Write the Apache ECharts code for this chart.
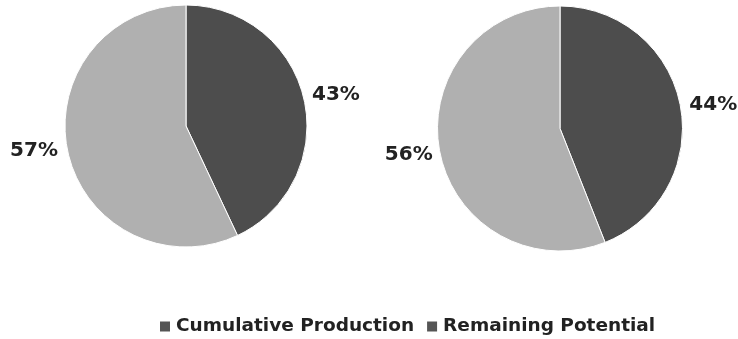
<!DOCTYPE html>
<html>
<head>
<meta charset="utf-8">
<script src="https://cdn.jsdelivr.net/npm/echarts@6/dist/echarts.min.js"></script>
<style>
  html, body { margin: 0; padding: 0; background: #fff; }
  #chart { width: 738px; height: 339px; }
</style>
</head>
<body>
<div id="chart"></div>
<script>
// Categories shown in the legend and used as slice names
const categories = ['Cumulative Production', 'Remaining Potential'];
// Share of each category (percent) for the two pies
const leftPieValues = [43, 57];
const rightPieValues = [44, 56];

const sliceColors = ['#4d4d4d', '#b0b0b0'];
const legendSwatch = '#555555';
const fontFamily = '"DejaVu Sans", Verdana, sans-serif';

// Small nudges for the outside percentage labels, per slice
const labelNudges = [
  [{ dx: 1, dy: -4 }, { dx: -3, dy: -2 }],
  [{ dx: 2, dy: 0 }, { dx: 0, dy: 3 }]
];

function pieSeries(values, center, radius, nudges) {
  return {
    type: 'pie',
    center: center,
    radius: radius,
    startAngle: 90,
    clockwise: true,
    avoidLabelOverlap: false,
    silent: true,
    itemStyle: { borderColor: '#ffffff', borderWidth: 1 },
    label: {
      show: true,
      position: 'outside',
      formatter: '{c}%',
      color: '#222222',
      fontFamily: fontFamily,
      fontWeight: 'bold',
      fontSize: 20
    },
    labelLine: { show: false, length: 2, length2: 0 },
    labelLayout: function (params) {
      return nudges[params.dataIndex];
    },
    data: categories.map((name, i) => ({
      name: name,
      value: values[i],
      itemStyle: { color: sliceColors[i] }
    }))
  };
}

const chart = echarts.init(document.getElementById('chart'), null, { renderer: 'canvas' });
chart.setOption({
  animation: false,
  backgroundColor: '#ffffff',
  legend: {
    left: 158,
    top: 317,
    padding: 0,
    itemWidth: 12,
    itemHeight: 12,
    itemGap: 11,
    icon: 'rect',
    textStyle: {
      fontFamily: fontFamily,
      fontWeight: 'bold',
      fontSize: 18.5,
      color: '#222222'
    },
    data: categories.map(name => ({ name: name, itemStyle: { color: legendSwatch } }))
  },
  series: [
    pieSeries(leftPieValues, [186, 126], 121, labelNudges[0]),
    pieSeries(rightPieValues, [560, 128.5], 122.5, labelNudges[1])
  ]
});
</script>
</body>
</html>
